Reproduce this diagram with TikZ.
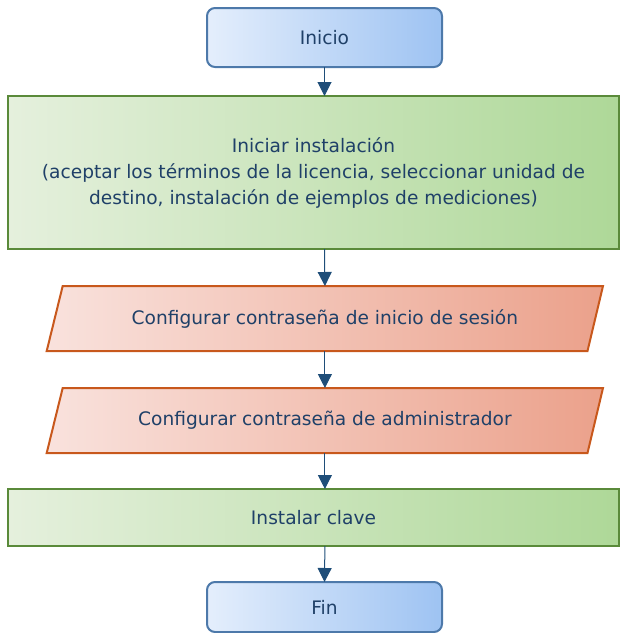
\documentclass[tikz,border=0pt]{standalone}
\usepackage{fontspec}
\setmainfont{DejaVu Sans}
\usetikzlibrary{arrows.meta}
\definecolor{txt}{HTML}{1F4068}
\definecolor{arr}{HTML}{1F4E79}
\definecolor{bL}{HTML}{E4EEFC}
\definecolor{bR}{HTML}{9EC3F2}
\definecolor{bB}{HTML}{4D79AA}
\definecolor{gL}{HTML}{E5F0DD}
\definecolor{gR}{HTML}{AED898}
\definecolor{gB}{HTML}{5A8A3A}
\definecolor{oL}{HTML}{F9E2DD}
\definecolor{oR}{HTML}{EBA18B}
\definecolor{oB}{HTML}{C8581C}
\begin{document}
\begin{tikzpicture}[x=1pt,y=-1pt,
  base/.style={text=txt,font=\fontsize{18.6}{26}\selectfont,align=center,inner sep=0pt,outer sep=0pt},
  term/.style={base,draw=bB,line width=2pt,rounded corners=8pt,left color=bL,right color=bR,minimum width=235pt},
  procbox/.style={base,draw=gB,line width=2.2pt,left color=gL,right color=gR,minimum width=611pt},
  iotext/.style={base,minimum width=520pt,minimum height=65pt},
  ioshape/.style={draw=oB,line width=2pt,left color=oL,right color=oR,line join=miter},
  flow/.style={draw=arr,line width=1pt,-{Triangle[length=14pt,width=14pt]}}]
\useasboundingbox (0,0) rectangle (620,633);
\node[term,minimum height=59pt] (inicio) at (324.5,37.5) {Inicio};
\node[procbox,minimum height=153pt] (inst) at (313.5,172.5) {Iniciar instalación\\(aceptar los términos de la licencia, seleccionar unidad de\\destino, instalación de ejemplos de mediciones)};
\path[ioshape] (62.7,286) -- (603,286) -- (587.5,351) -- (46.7,351) -- cycle;
\node[iotext] (pw1) at (324.9,318.5) {Configurar contraseña de inicio de sesión};
\path[ioshape] (62.7,388) -- (603,388) -- (587.5,453) -- (46.7,453) -- cycle;
\node[iotext] (pw2) at (324.9,420.5) {Configurar contraseña de administrador};
\node[procbox,minimum height=57pt] (clave) at (313.5,517.5) {Instalar clave};
\node[term,minimum height=50pt] (fin) at (324.5,607) {Fin};
\draw[flow] (inicio.south) -- (inicio.south |- inst.north);
\draw[flow] (inicio.south |- inst.south) -- (pw1.north);
\draw[flow] (pw1.south) -- (pw2.north);
\draw[flow] (pw2.south) -- (pw2.south |- clave.north);
\draw[flow] (pw2.south |- clave.south) -- (fin.north);
\end{tikzpicture}
\end{document}
